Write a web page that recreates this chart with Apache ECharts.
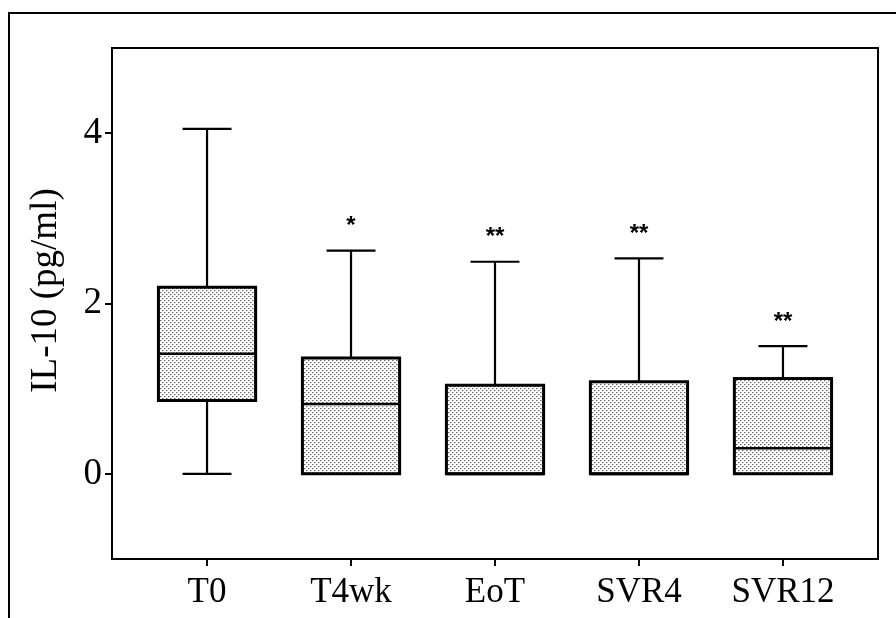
<!DOCTYPE html>
<html>
<head>
<meta charset="utf-8">
<script src="https://cdn.jsdelivr.net/npm/echarts@6/dist/echarts.min.js"></script>
<style>
  html, body { margin: 0; padding: 0; background: #fff; }
  #chart { width: 896px; height: 618px; }
</style>
</head>
<body>
<div id="chart"></div>
<script>
// IL-10 levels at each time point (pg/ml): box = quartiles, whiskers = min/max
const categories   = ['T0', 'T4wk', 'EoT', 'SVR4', 'SVR12'];
const whiskerLow   = [0.00, 0.00, 0.00, 0.00, 0.00];
const quartile1    = [0.86, 0.00, 0.00, 0.00, 0.00];
const medianValues = [1.41, 0.82, 0.00, 0.00, 0.30];
const quartile3    = [2.19, 1.36, 1.04, 1.08, 1.12];
const whiskerHigh  = [4.05, 2.62, 2.49, 2.53, 1.50];
const significance = ['', '*', '**', '**', '**'];
const yTickValues  = [0, 2, 4];

const SERIF = '"Liberation Serif", "Times New Roman", serif';

// light stippled fill for the boxes
function dotPattern() {
  const c = document.createElement('canvas');
  c.width = 4; c.height = 4;
  const g = c.getContext('2d');
  g.fillStyle = '#ffffff';
  g.fillRect(0, 0, 4, 4);
  g.fillStyle = '#6e6e6e';
  g.fillRect(0, 0, 1, 1);
  g.fillRect(2, 2, 1, 1);
  g.fillStyle = '#b8b8b8';
  g.fillRect(1, 0, 1, 1);
  g.fillRect(3, 2, 1, 1);
  g.fillStyle = '#e2e2e2';
  g.fillRect(0, 1, 1, 1);
  g.fillRect(2, 3, 1, 1);
  return c;
}
const boxFill = { image: dotPattern(), repeat: 'repeat' };

const boxData = categories.map((_, i) => [
  i, whiskerLow[i], quartile1[i], medianValues[i], quartile3[i], whiskerHigh[i]
]);

const BOX_WIDTH = 0.675;   // in category units
const CAP_WIDTH = 0.34;

function renderBox(params, api) {
  const i = api.value(0);
  const pLow  = api.coord([i, api.value(1)]);
  const pQ1   = api.coord([i, api.value(2)]);
  const pMed  = api.coord([i, api.value(3)]);
  const pQ3   = api.coord([i, api.value(4)]);
  const pHigh = api.coord([i, api.value(5)]);
  const x = pMed[0];
  const bw = api.size([BOX_WIDTH, 0])[0];
  const cw = api.size([CAP_WIDTH, 0])[0];
  const lineStyle = { stroke: '#000', lineWidth: 2.2 };
  const children = [];

  // whiskers
  if (pQ1[1] < pLow[1] - 0.5) {
    children.push({ type: 'line', shape: { x1: x, y1: pQ1[1], x2: x, y2: pLow[1] }, style: lineStyle });
  }
  children.push({ type: 'line', shape: { x1: x - cw / 2, y1: pLow[1], x2: x + cw / 2, y2: pLow[1] }, style: lineStyle });
  children.push({ type: 'line', shape: { x1: x, y1: pHigh[1], x2: x, y2: pQ3[1] }, style: lineStyle });
  children.push({ type: 'line', shape: { x1: x - cw / 2, y1: pHigh[1], x2: x + cw / 2, y2: pHigh[1] }, style: lineStyle });

  // box
  children.push({
    type: 'rect',
    shape: { x: x - bw / 2, y: pQ3[1], width: bw, height: pQ1[1] - pQ3[1] },
    style: { fill: boxFill, stroke: '#000', lineWidth: 3 }
  });
  // median
  children.push({
    type: 'line',
    shape: { x1: x - bw / 2, y1: pMed[1], x2: x + bw / 2, y2: pMed[1] },
    style: { stroke: '#000', lineWidth: 2.6 }
  });

  // significance marker above the upper whisker
  const mark = significance[params.dataIndex];
  if (mark) {
    children.push({
      type: 'text',
      x: x, y: pHigh[1] - 24,
      style: {
        text: mark, align: 'center', verticalAlign: 'middle',
        fill: '#000', font: 'bold 24px "Liberation Sans", Arial, sans-serif'
      }
    });
  }
  return { type: 'group', children };
}

const chart = echarts.init(document.getElementById('chart'));
chart.setOption({
  animation: false,
  backgroundColor: '#fff',
  graphic: [{
    type: 'polyline',
    shape: { points: [[9, 620], [9, 13], [898, 13]] },
    style: { stroke: '#000', lineWidth: 2, fill: null },
    silent: true
  }],
  grid: {
    left: 112, right: 18, top: 48, bottom: 59,
    show: true, borderColor: '#000', borderWidth: 2,
    containLabel: false, outerBoundsMode: 'none'
  },
  xAxis: {
    type: 'value',
    min: -0.66, max: 4.66,
    axisLine: { show: true, onZero: false, lineStyle: { color: '#000', width: 2 } },
    axisTick: { show: true, length: 7, customValues: [0, 1, 2, 3, 4], lineStyle: { color: '#000', width: 2 } },
    axisLabel: {
      customValues: [0, 1, 2, 3, 4],
      formatter: v => categories[Math.round(v)],
      color: '#000', fontFamily: SERIF, fontSize: 35, margin: 16
    },
    splitLine: { show: false }
  },
  yAxis: {
    type: 'value',
    min: -1, max: 5, interval: 1,
    name: 'IL-10 (pg/ml)',
    nameLocation: 'middle',
    nameGap: 47,
    nameTextStyle: { color: '#000', fontFamily: SERIF, fontSize: 37, padding: [0, 0, 0, 26] },
    axisLine: { show: true, onZero: false, lineStyle: { color: '#000', width: 2 } },
    axisTick: { show: true, length: 7, customValues: yTickValues, lineStyle: { color: '#000', width: 2 } },
    axisLabel: {
      customValues: yTickValues,
      color: '#000', fontFamily: SERIF, fontSize: 37, margin: 10
    },
    splitLine: { show: false }
  },
  series: [{
    type: 'custom',
    renderItem: renderBox,
    encode: { x: 0, y: [1, 2, 3, 4, 5] },
    data: boxData,
    clip: false
  }]
});
</script>
</body>
</html>
